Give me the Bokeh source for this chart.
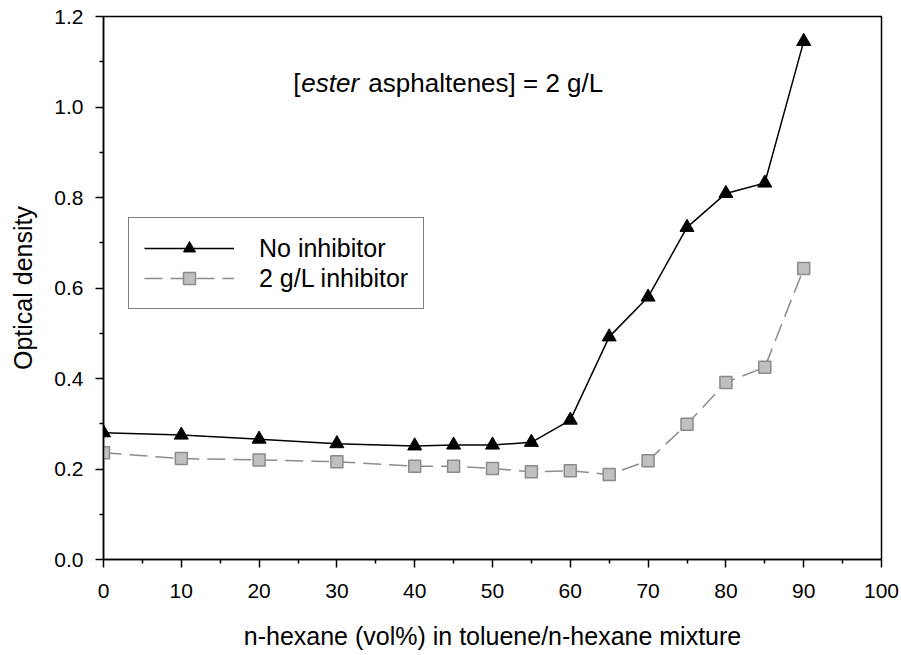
from bokeh.plotting import figure
from bokeh.models import (ColumnDataSource, Legend, LegendItem, Label,
                          FixedTicker, PrintfTickFormatter, Range1d)
from bokeh.embed import file_html
from bokeh.resources import INLINE

# ---- data ----
hexane_pct = [0, 10, 20, 30, 40, 45, 50, 55, 60, 65, 70, 75, 80, 85, 90]
od_no_inhibitor = [0.280, 0.275, 0.266, 0.256, 0.251, 0.253, 0.253, 0.259,
                   0.308, 0.492, 0.580, 0.734, 0.809, 0.832, 1.145]
od_inhibitor = [0.236, 0.223, 0.220, 0.216, 0.206, 0.206, 0.201, 0.194,
                0.196, 0.188, 0.218, 0.299, 0.391, 0.425, 0.643]
series_labels = ["No inhibitor", "2 g/L inhibitor"]
x_ticks = [0, 10, 20, 30, 40, 50, 60, 70, 80, 90, 100]
x_minor_ticks = [5, 15, 25, 35, 45, 55, 65, 75, 85, 95]
y_ticks = [0.0, 0.2, 0.4, 0.6, 0.8, 1.0, 1.2]
y_minor_ticks = [0.1, 0.3, 0.5, 0.7, 0.9, 1.1]
x_label = "n-hexane (vol%) in toluene/n-hexane mixture"
y_label = "Optical density"

FONT = "Liberation Sans"

src_a = ColumnDataSource(dict(x=hexane_pct, y=od_no_inhibitor))
src_b = ColumnDataSource(dict(x=hexane_pct, y=od_inhibitor))

p = figure(width=900, height=652, output_backend="svg", toolbar_location=None,
           x_range=Range1d(0, 100), y_range=Range1d(0, 1.2),
           min_border_left=103, min_border_right=19, min_border_top=16,
           min_border_bottom=92)
p.grid.visible = False
p.outline_line_color = "black"
p.outline_line_width = 1.5
p.background_fill_color = "white"
p.border_fill_color = "white"

# axes
p.xaxis.ticker = FixedTicker(ticks=x_ticks, minor_ticks=x_minor_ticks)
p.yaxis.ticker = FixedTicker(ticks=y_ticks, minor_ticks=y_minor_ticks)
p.yaxis.formatter = PrintfTickFormatter(format="%.1f")
for ax in (p.xaxis, p.yaxis):
    ax.axis_line_color = "black"
    ax.axis_line_width = 1.5
    ax.major_tick_line_color = "black"
    ax.minor_tick_line_color = "black"
    ax.major_tick_line_width = 1.5
    ax.minor_tick_line_width = 1.5
    ax.major_tick_out = 8
    ax.major_tick_in = 0
    ax.minor_tick_out = 4
    ax.minor_tick_in = 0
    ax.major_label_text_font = FONT
    ax.major_label_text_font_size = "21px"
    ax.major_label_text_color = "black"
    ax.axis_label_text_font = FONT
    ax.axis_label_text_font_size = "25px"
    ax.axis_label_text_font_style = "normal"
    ax.axis_label_text_color = "black"
p.xaxis.axis_label = x_label
p.yaxis.axis_label = y_label
p.xaxis.major_label_standoff = 16
p.yaxis.major_label_standoff = 12
p.xaxis.axis_label_standoff = 21
p.yaxis.axis_label_standoff = 14

# series
la = p.line("x", "y", source=src_a, line_color="black", line_width=1.5)
sa = p.scatter("x", "y", source=src_a, marker="triangle", size=14,
               fill_color="black", line_color="black")
lb = p.line("x", "y", source=src_b, line_color="#8c8c8c", line_width=1.5,
            line_dash="18 8")
sb = p.scatter("x", "y", source=src_b, marker="square", size=12,
               fill_color="#c0c0c0", line_color="#8a8a8a", line_width=1.5)

legend = Legend(items=[LegendItem(label=series_labels[0], renderers=[la, sa]),
                       LegendItem(label=series_labels[1], renderers=[lb, sb])],
                location=(25, 250), orientation="vertical")
legend.border_line_color = "black"
legend.border_line_width = 1.5
legend.background_fill_color = "white"
legend.background_fill_alpha = 1.0
legend.label_text_font = FONT
legend.label_text_font_size = "25px"
legend.label_text_color = "black"
legend.glyph_width = 90
legend.glyph_height = 30
legend.label_height = 30
legend.label_standoff = 25
legend.spacing = 0
legend.padding = 15
legend.margin = 0
p.add_layout(legend, "center")

# annotation: [ester asphaltenes] = 2 g/L
ann_x = 24.4
ann_y = 1.052
common = dict(x=ann_x, y=ann_y, text_font=FONT, text_font_size="26px",
              text_color="black", text_baseline="alphabetic", text_align="left")
p.add_layout(Label(text="[", x_offset=0, **common))
p.add_layout(Label(text="ester", x_offset=8, text_font_style="italic", **common))
p.add_layout(Label(text="asphaltenes] = 2 g/L", x_offset=75, **common))

open("out.html", "w").write(file_html(p, INLINE))
